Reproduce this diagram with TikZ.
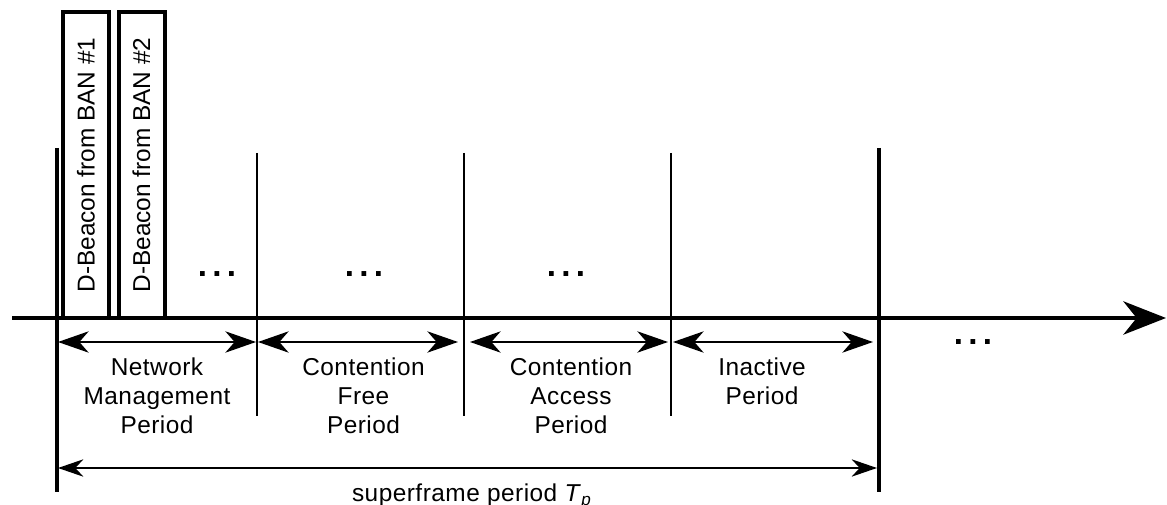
\documentclass[tikz,border=0pt]{standalone}
\usepackage{fontspec}
\setmainfont{Liberation Sans}
\usetikzlibrary{arrows.meta}
\begin{document}
\begin{tikzpicture}[x=0.75pt,y=-0.75pt,
  lbl/.style={font=\fontsize{18.3}{21.75}\selectfont\addfontfeature{LetterSpace=2}, align=center, inner sep=0pt, anchor=north},
  dots/.style={font=\fontsize{25}{28}\selectfont\bfseries, inner sep=0pt},
  beacon/.style={draw, line width=3pt, rotate=90, minimum width=229.5pt, minimum height=34.5pt,
    inner sep=0pt, font=\fontsize{18.3}{21}\selectfont},
  thickv/.style={line width=2.6pt},
  thinv/.style={line width=1.5pt},
  dbl/.style={line width=1.4pt, {Stealth[length=23pt,width=16pt,inset=7pt]}-{Stealth[length=23pt,width=16pt,inset=7pt]}},
  span/.style={line width=1.4pt, {Stealth[length=19pt,width=13pt,inset=6pt]}-{Stealth[length=19pt,width=13pt,inset=6pt]}},
  axis/.style={line width=3pt, -{Stealth[length=32pt,width=25pt,inset=10pt]}}]
\useasboundingbox (0,0) rectangle (1167,505);

% verticals
\coordinate (v0t) at (57,148);  \coordinate (v0b) at (57,492);
\coordinate (v1t) at (257,153); \coordinate (v1b) at (257,416);
\coordinate (v2t) at (464,153); \coordinate (v2b) at (464,416);
\coordinate (v3t) at (671,153); \coordinate (v3b) at (671,416);
\coordinate (v4t) at (879,148); \coordinate (v4b) at (879,492);
\draw[thickv] (v0t) -- (v0b);
\draw[thinv] (v1t) -- (v1b);
\draw[thinv] (v2t) -- (v2b);
\draw[thinv] (v3t) -- (v3b);
\draw[thickv] (v4t) -- (v4b);

% beacon boxes
\node[beacon] (b1) at (86,165) {D-Beacon from BAN \#1};
\node[beacon] (b2) at (141.5,165) {D-Beacon from BAN \#2};

% time axis
\coordinate (ax0) at (12,318);
\coordinate (ax1) at (1166,318);
\draw[axis] (ax0) -- (ax1);

% period arrows
\coordinate (a0) at (58,342);
\coordinate (a1l) at (256,342); \coordinate (a1r) at (258,342);
\coordinate (a2l) at (458,342); \coordinate (a2r) at (470,342);
\coordinate (a3l) at (668,342); \coordinate (a3r) at (673,342);
\coordinate (a4) at (873,342);
\draw[dbl] (a0) -- (a1l);
\draw[dbl] (a1r) -- (a2l);
\draw[dbl] (a2r) -- (a3l);
\draw[dbl] (a3r) -- (a4);

% superframe arrow
\coordinate (s0) at (58,468);
\coordinate (s1) at (877,468);
\draw[span] (s0) -- (s1);

% labels
\node[lbl] (l1) at (157,358) {Network\\Management\\Period};
\node[lbl] (l2) at (363.5,358) {Contention\\Free\\Period};
\node[lbl] (l3) at (571,358) {Contention\\Access\\Period};
\node[lbl] (l4) at (762,358) {Inactive\\Period};
\node[font=\fontsize{18.3}{21}\selectfont\addfontfeature{LetterSpace=2}, inner sep=0pt, anchor=base] (sf) at (472,502)
  {superframe period \textit{T}\textsubscript{\textit{p}}};

% dots
\node[dots] (d1) at (217,274) {.\hspace{4pt}.\hspace{4pt}.};
\node[dots] (d2) at (364,274) {.\hspace{4pt}.\hspace{4pt}.};
\node[dots] (d3) at (566,274) {.\hspace{4pt}.\hspace{4pt}.};
\node[dots] (d4) at (973,342) {.\hspace{4pt}.\hspace{4pt}.};
\end{tikzpicture}
\end{document}
